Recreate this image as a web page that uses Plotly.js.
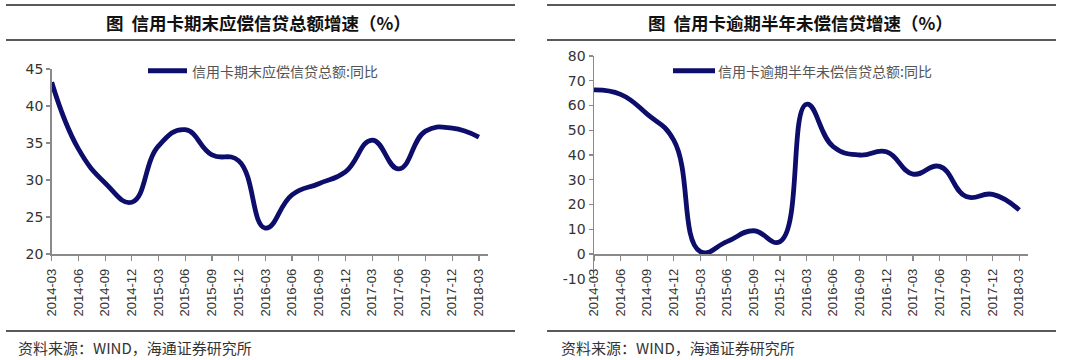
<!DOCTYPE html>
<html>
<head>
<meta charset="utf-8">
<script src="https://cdn.plot.ly/plotly-3.0.1.min.js"></script>
<style>
  html, body { margin: 0; padding: 0; background: #fff; }
  #chart { width: 1080px; height: 360px; }
</style>
</head>
<body>
<div id="chart"></div>
<script>
// ---- data ----
const categories = ['2014-03','2014-06','2014-09','2014-12','2015-03','2015-06','2015-09','2015-12',
                    '2016-03','2016-06','2016-09','2016-12','2017-03','2017-06','2017-09','2017-12','2018-03'];
const balanceGrowth = [43.2, 34.2, 29.6, 27.0, 34.6, 36.8, 33.4, 32.6, 23.5, 28.0, 29.5, 31.1, 35.4, 31.5, 36.6, 37.0, 35.8];
const overdueGrowth = [66.3, 64.5, 56.5, 46.0, 1.0, 5.0, 9.4, 5.0, 60.5, 43.4, 40.0, 41.3, 32.3, 35.4, 23.2, 24.1, 17.8];
const leftTitle = '图  信用卡期末应偿信贷总额增速（%）';
const rightTitle = '图  信用卡逾期半年未偿信贷增速（%）';
const leftSeriesName = '信用卡期末应偿信贷总额:同比';
const rightSeriesName = '信用卡逾期半年未偿信贷总额:同比';
const sourceText = '资料来源：WIND，海通证券研究所';
const leftYTicks = [20, 25, 30, 35, 40, 45];
const rightYTicks = [-10, 0, 10, 20, 30, 40, 50, 60, 70, 80];
const rightYTickText = ['-10', '0', '10', '20', '30', '40', '50', '60', '70', '80'];

// ---- layout helpers (pixel -> paper) ----
const W = 1080, H = 360;
const px = x => x / W;
const py = y => 1 - y / H;

const lineColor = '#0d0d6b';
const axisColor = '#8a8a8a';
const cjk = '"Noto Sans CJK SC", "Noto Sans", sans-serif';

const traces = [
  { x: categories, y: balanceGrowth, name: leftSeriesName, type: 'scatter', mode: 'lines',
    line: { color: lineColor, width: 4.8, shape: 'spline', smoothing: 1.3 },
    xaxis: 'x', yaxis: 'y', showlegend: false, hoverinfo: 'x+y' },
  { x: categories, y: overdueGrowth, name: rightSeriesName, type: 'scatter', mode: 'lines',
    line: { color: lineColor, width: 4.8, shape: 'spline', smoothing: 1.3 },
    xaxis: 'x2', yaxis: 'y2', showlegend: false, hoverinfo: 'x+y' }
];

const xCommon = {
  type: 'category', range: [0, 16.34], showgrid: false, zeroline: false,
  showline: true, linecolor: axisColor, linewidth: 1.5,
  ticks: 'outside', ticklen: 5, tickwidth: 1.2, tickcolor: axisColor,
  tickangle: -90, ticklabelstandoff: 3,
  tickfont: { family: '"Liberation Sans", Arial, sans-serif', size: 13, color: '#333' },
  fixedrange: true
};
const yCommon = {
  showgrid: false, zeroline: false, showline: true, linecolor: axisColor, linewidth: 1.5,
  ticks: 'outside', ticklen: 4, tickwidth: 1.2, tickcolor: axisColor,
  tickfont: { family: '"DejaVu Sans", sans-serif', size: 14, color: '#333' },
  tickmode: 'array', fixedrange: true
};

const layout = {
  width: W, height: H, autosize: false,
  margin: { l: 0, r: 0, t: 0, b: 0, pad: 0 },
  paper_bgcolor: '#fff', plot_bgcolor: '#fff',
  showlegend: false,
  xaxis: Object.assign({}, xCommon, { domain: [px(51.7), px(488)], anchor: 'y' }),
  yaxis: Object.assign({}, yCommon, { domain: [py(254), py(69)], range: [20, 45],
          tickvals: leftYTicks, anchor: 'x' }),
  xaxis2: Object.assign({}, xCommon, { domain: [px(594), px(1028.3)], anchor: 'free', position: py(254) }),
  yaxis2: Object.assign({}, yCommon, { domain: [py(278.75), py(56)], range: [-10, 80],
          tickvals: rightYTicks, ticktext: rightYTickText, anchor: 'x2' }),
  shapes: [],
  annotations: []
};

// rule lines
const rule = (x0, x1, y) => ({ type: 'line', xref: 'paper', yref: 'paper',
  x0: px(x0), x1: px(x1), y0: py(y), y1: py(y), line: { color: '#222', width: 1.5 } });
layout.shapes.push(rule(6, 515, 5), rule(6, 515, 40), rule(6, 515, 331));
layout.shapes.push(rule(547, 1056, 5), rule(547, 1056, 40), rule(547, 1056, 331));

// legend samples
const legLine = (x0, x1, y) => ({ type: 'line', xref: 'paper', yref: 'paper',
  x0: px(x0), x1: px(x1), y0: py(y), y1: py(y), line: { color: lineColor, width: 5 } });
layout.shapes.push(legLine(148, 187, 70.7), legLine(673, 715, 70.7));

const ann = (text, x, y, xanchor, font) => ({ text, x: px(x), y: py(y), xref: 'paper', yref: 'paper',
  xanchor, yanchor: 'middle', showarrow: false, font, borderpad: 0 });

layout.annotations.push(
  ann('<b>' + leftTitle + '</b>', 258, 22, 'center', { family: cjk, size: 17.5, color: '#111' }),
  ann('<b>' + rightTitle + '</b>', 800, 22, 'center', { family: cjk, size: 17.5, color: '#111' }),
  ann(leftSeriesName, 191, 70.7, 'left', { family: cjk, size: 14, color: '#555' }),
  ann(rightSeriesName, 717, 70.7, 'left', { family: cjk, size: 14, color: '#555' }),
  ann(sourceText, 17, 347, 'left', { family: cjk, size: 15, color: '#333' }),
  ann(sourceText, 560, 347, 'left', { family: cjk, size: 15, color: '#333' })
);

Plotly.newPlot('chart', traces, layout, { staticPlot: true, displayModeBar: false });
</script>
</body>
</html>
